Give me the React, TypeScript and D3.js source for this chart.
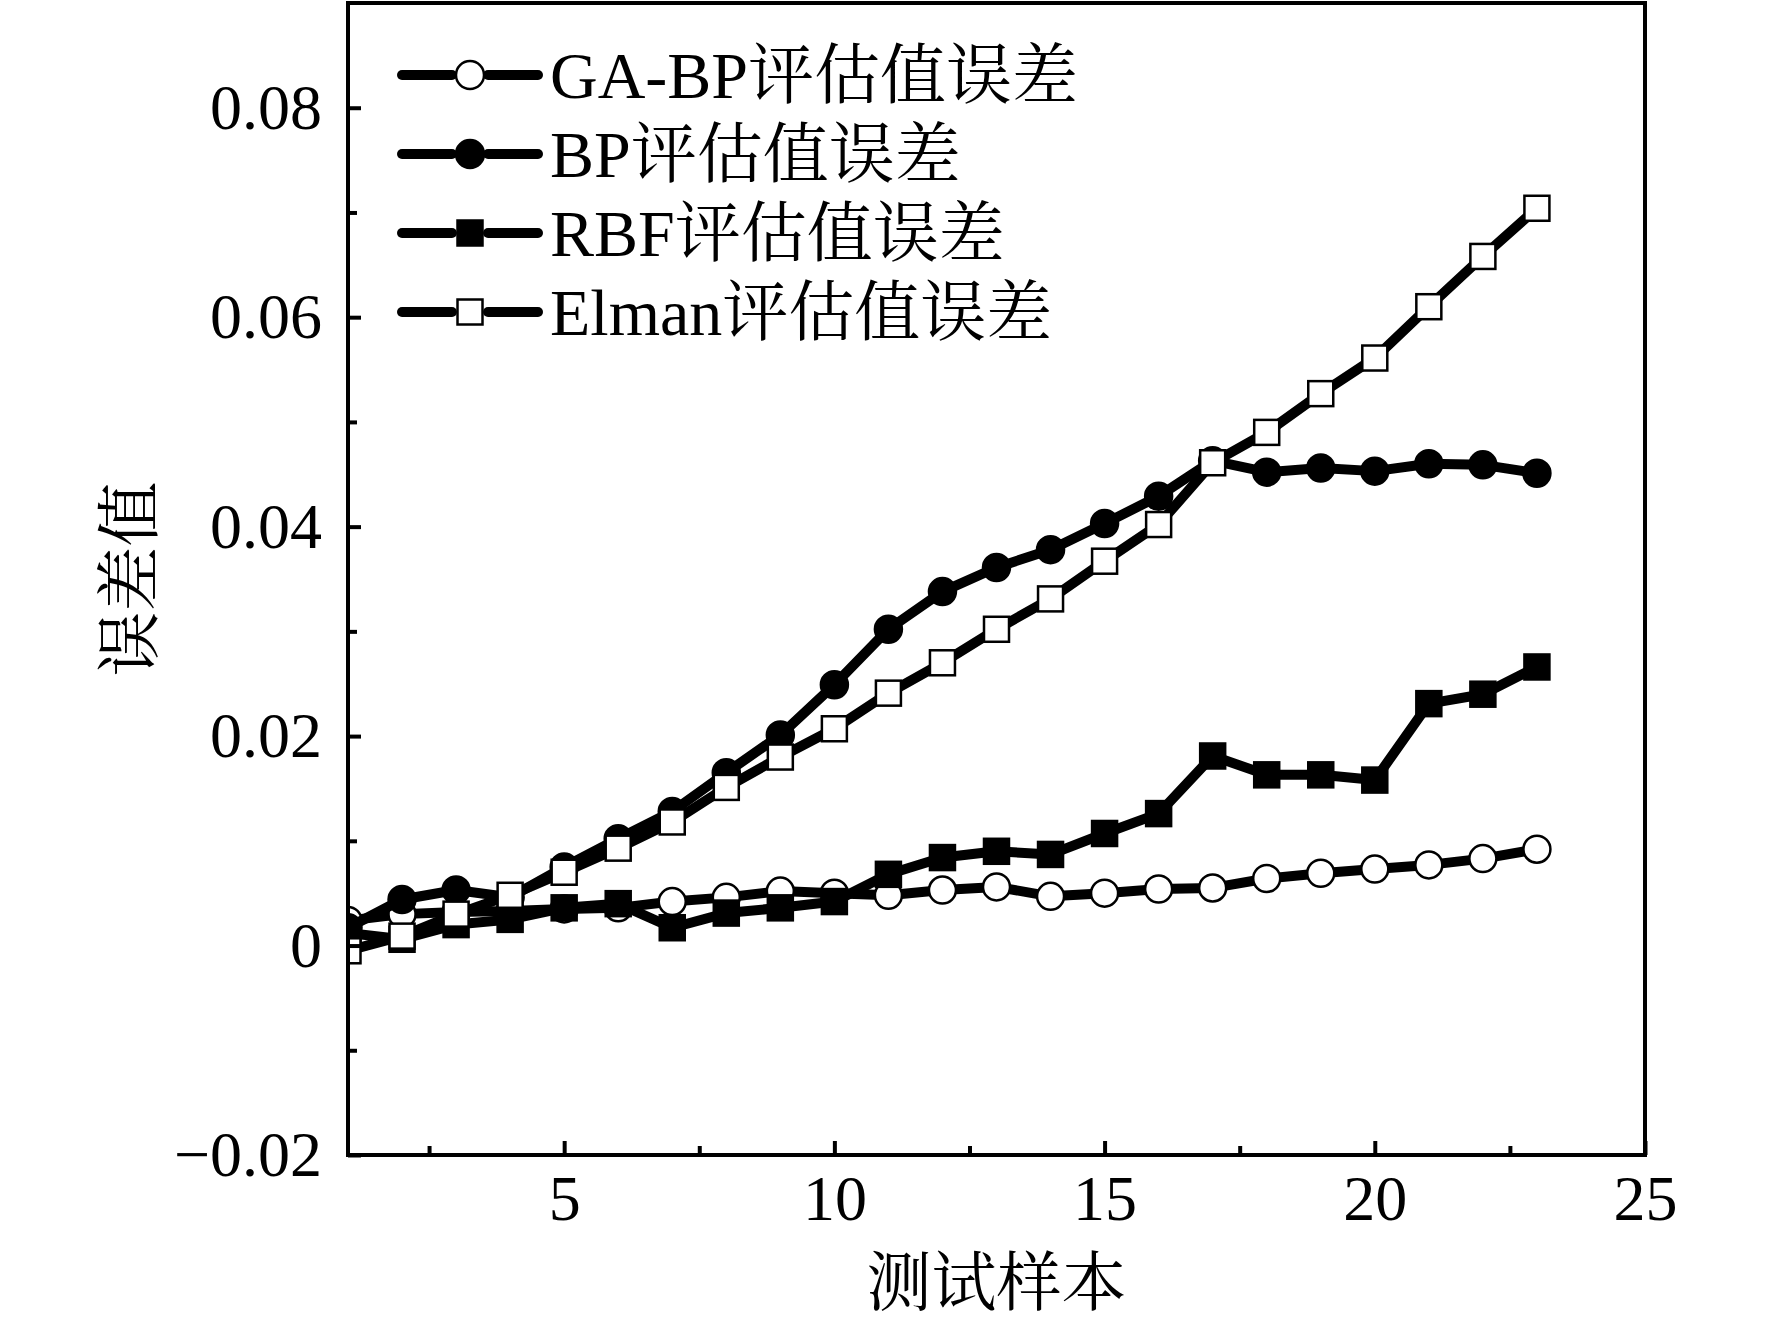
import React, { useRef, useEffect } from "react";
import { select, scaleLinear, line, axisBottom, axisLeft } from "d3";

// test samples 1..23 and the four error series
const samples = [1, 2, 3, 4, 5, 6, 7, 8, 9, 10, 11, 12, 13, 14, 15, 16, 17, 18, 19, 20, 21, 22, 23];

const gaBpError = [
    0.0024, 0.003, 0.0032, 0.0033, 0.0035, 0.0036, 0.0042, 0.0046, 0.0052, 0.005, 0.0048, 0.0053,
    0.0056, 0.0047, 0.005, 0.0054, 0.0055, 0.0064, 0.0069, 0.0073, 0.0077, 0.0083, 0.0092,
];
const bpError = [
    0.0017, 0.0044, 0.0053, 0.0046, 0.0075, 0.0102, 0.0128, 0.0165, 0.0201, 0.0249, 0.0302, 0.0338,
    0.0361, 0.0378, 0.0403, 0.0429, 0.0463, 0.0452, 0.0456, 0.0453, 0.046, 0.0459, 0.0451,
];
const rbfError = [
    0.0012, 0.0006, 0.002, 0.0025, 0.0036, 0.004, 0.0017, 0.0031, 0.0036, 0.0042, 0.0068, 0.0084,
    0.009, 0.0087, 0.0107, 0.0126, 0.0181, 0.0163, 0.0163, 0.0158, 0.0231, 0.024, 0.0266,
];
const elmanError = [
    -0.0005, 0.0009, 0.003, 0.0048, 0.007, 0.0093, 0.0118, 0.0151, 0.018, 0.0207, 0.0241, 0.027,
    0.0302, 0.0331, 0.0367, 0.0402, 0.0461, 0.049, 0.0527, 0.0561, 0.061, 0.0658, 0.0704,
];

const seriesNames = ["GA-BP评估值误差", "BP评估值误差", "RBF评估值误差", "Elman评估值误差"];

const xTicks = [5, 10, 15, 20, 25];
const xMinorTicks = [2.5, 7.5, 12.5, 17.5, 22.5];
const yTicks = [-0.02, 0, 0.02, 0.04, 0.06, 0.08];
const yTickLabels = ["\u22120.02", "0", "0.02", "0.04", "0.06", "0.08"];
const yMinorTicks = [-0.01, 0.01, 0.03, 0.05, 0.07];

const W = 1772;
const H = 1327;
const FONT = "'Times New Roman', 'Liberation Serif', 'Noto Serif CJK SC', 'Noto Sans CJK SC', serif";

function ErrorChart() {
    const svgRef = useRef(null);

    useEffect(() => {
        document.body.style.margin = "0";
        const svg = select(svgRef.current);
        svg.selectAll("*").remove();

        const left = 348, right = 1645, top = 3, bottom = 1155;

        const x = scaleLinear().domain([1, 25]).range([left, right]);
        const y = scaleLinear().domain([-0.02, 0.09]).range([bottom, top]);

        const series = [
            { name: seriesNames[0], values: gaBpError, shape: "circle", fill: "#fff" },
            { name: seriesNames[1], values: bpError, shape: "circle", fill: "#000" },
            { name: seriesNames[2], values: rbfError, shape: "square", fill: "#000" },
            { name: seriesNames[3], values: elmanError, shape: "square", fill: "#fff" },
        ];

        svg.append("defs")
            .append("clipPath")
            .attr("id", "plot-clip")
            .append("rect")
            .attr("x", left)
            .attr("y", top)
            .attr("width", right - left)
            .attr("height", bottom - top);

        const plot = svg.append("g").attr("clip-path", "url(#plot-clip)");

        const errLine = line<number>()
            .x((_, i) => x(samples[i]))
            .y((d) => y(d));

        const drawMarker = (g, shape, fill, cx, cy, size) => {
            if (shape === "circle") {
                g.append("circle")
                    .attr("cx", cx)
                    .attr("cy", cy)
                    .attr("r", size / 2)
                    .attr("fill", fill)
                    .attr("stroke", "#000")
                    .attr("stroke-width", 2.5);
            } else {
                g.append("rect")
                    .attr("x", cx - size / 2)
                    .attr("y", cy - size / 2)
                    .attr("width", size)
                    .attr("height", size)
                    .attr("fill", fill)
                    .attr("stroke", "#000")
                    .attr("stroke-width", 2.5);
            }
        };

        // each series: line then its symbols, in legend order (later ones on top)
        series.forEach((s) => {
            const g = plot.append("g");
            g.append("path")
                .datum(s.values)
                .attr("d", errLine)
                .attr("fill", "none")
                .attr("stroke", "#000")
                .attr("stroke-width", 10)
                .attr("stroke-linejoin", "round");
            s.values.forEach((v, i) => drawMarker(g, s.shape, s.fill, x(samples[i]), y(v), s.shape === "circle" ? 27 : 25));
        });

        // frame
        svg.append("rect")
            .attr("x", left)
            .attr("y", top)
            .attr("width", right - left)
            .attr("height", bottom - top)
            .attr("fill", "none")
            .attr("stroke", "#000")
            .attr("stroke-width", 4);

        // axes with inward ticks
        const xAxis = svg
            .append("g")
            .attr("transform", `translate(0,${bottom})`)
            .call(axisBottom(x).tickValues(xTicks).tickSize(-14).tickSizeOuter(0).tickPadding(20));
        svg.append("g")
            .attr("transform", `translate(0,${bottom})`)
            .call(axisBottom(x).tickValues(xMinorTicks).tickSize(-9).tickSizeOuter(0).tickFormat(() => ""));

        const yAxis = svg
            .append("g")
            .attr("transform", `translate(${left},0)`)
            .call(
                axisLeft(y)
                    .tickValues(yTicks)
                    .tickSize(-13)
                    .tickSizeOuter(0)
                    .tickPadding(26)
                    .tickFormat((d, i) => yTickLabels[i])
            );
        svg.append("g")
            .attr("transform", `translate(${left},0)`)
            .call(axisLeft(y).tickValues(yMinorTicks).tickSize(-9).tickSizeOuter(0).tickFormat(() => ""));

        svg.selectAll(".domain").remove();
        svg.selectAll(".tick line").attr("stroke", "#000").attr("stroke-width", 4);
        [xAxis, yAxis].forEach((a) =>
            a.selectAll("text").attr("font-family", FONT).attr("font-size", 64).attr("fill", "#000")
        );

        // axis titles
        svg.append("text")
            .attr("x", (left + right) / 2)
            .attr("y", 1305)
            .attr("text-anchor", "middle")
            .attr("font-family", FONT)
            .attr("font-size", 65)
            .text("测试样本");

        svg.append("text")
            .attr("transform", `translate(152,${(top + bottom) / 2}) rotate(-90)`)
            .attr("text-anchor", "middle")
            .attr("font-family", FONT)
            .attr("font-size", 65)
            .text("误差值");

        // legend
        const legend = svg.append("g");
        series.forEach((s, i) => {
            const ly = 75 + i * 79;
            const g = legend.append("g");
            g.append("line")
                .attr("x1", 402)
                .attr("x2", 452)
                .attr("y1", ly)
                .attr("y2", ly)
                .attr("stroke", "#000")
                .attr("stroke-width", 10)
                .attr("stroke-linecap", "round");
            g.append("line")
                .attr("x1", 488)
                .attr("x2", 538)
                .attr("y1", ly)
                .attr("y2", ly)
                .attr("stroke", "#000")
                .attr("stroke-width", 10)
                .attr("stroke-linecap", "round");
            drawMarker(g, s.shape, s.fill, 470, ly, s.shape === "circle" ? 28 : 25);
            g.append("text")
                .attr("x", 550)
                .attr("y", ly + 23)
                .attr("font-family", FONT)
                .attr("font-size", 66)
                .text(s.name);
        });
    }, []);

    return <svg ref={svgRef} width={W} height={H} style={{ display: "block", background: "#fff" }} />;
}

export default function App() {
    return (
        <div>
            <ErrorChart />
        </div>
    );
}
